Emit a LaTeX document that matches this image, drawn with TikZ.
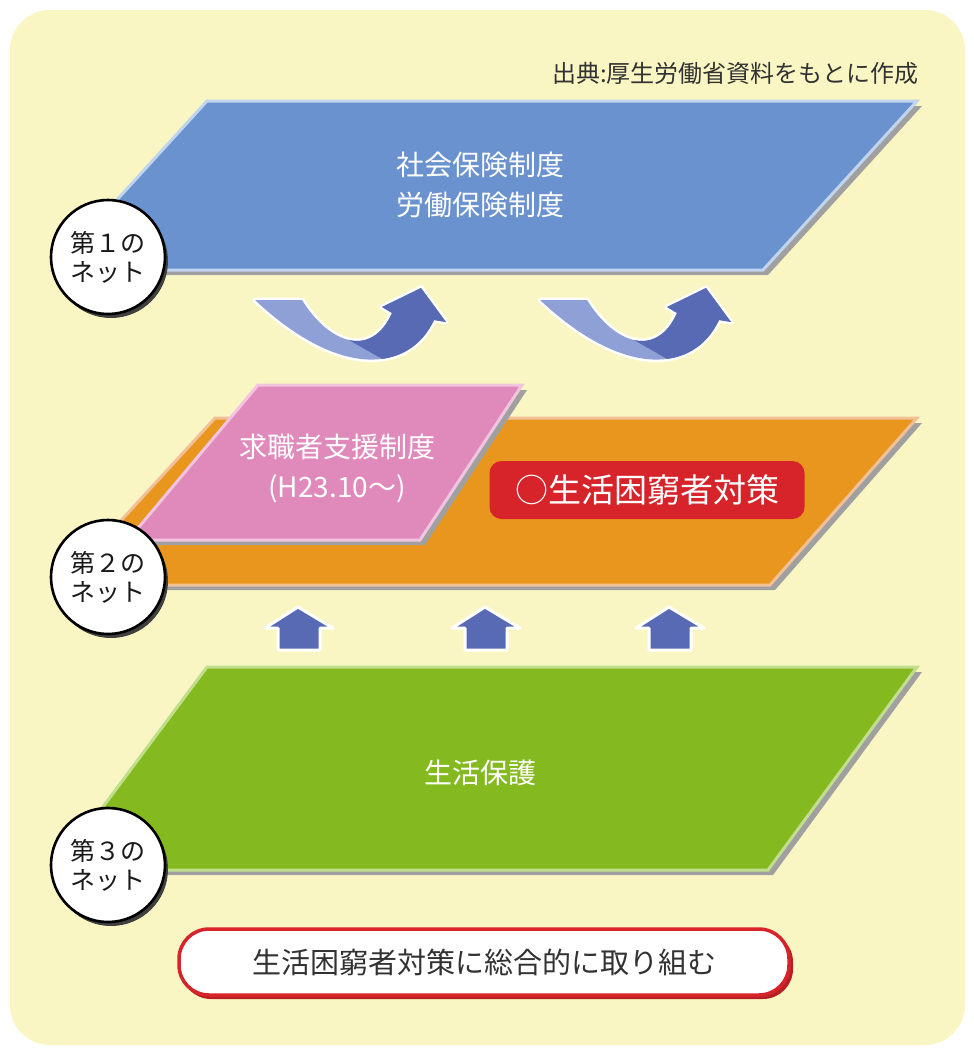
\documentclass[tikz,border=0pt]{standalone}
\usepackage{fontspec}
\setmainfont{Noto Sans CJK JP}
\definecolor{bgyellow}{RGB}{250,246,195}
\definecolor{netblue}{RGB}{106,146,206}
\definecolor{netblueL}{RGB}{192,212,238}
\definecolor{netorange}{RGB}{233,150,30}
\definecolor{netorangeL}{RGB}{242,192,150}
\definecolor{netpink}{RGB}{224,138,188}
\definecolor{netpinkL}{RGB}{242,196,224}
\definecolor{netgreen}{RGB}{132,186,32}
\definecolor{netgreenL}{RGB}{192,222,140}
\definecolor{shadowgray}{RGB}{160,160,160}
\definecolor{boxred}{RGB}{214,36,42}
\definecolor{arrlight}{RGB}{143,160,214}
\definecolor{arrdark}{RGB}{88,106,180}
\definecolor{txtgray}{RGB}{50,50,50}
\begin{document}
\begin{tikzpicture}[x=1pt,y=-1pt,
  plane/.style={line width=3pt,line join=miter},
  planeshadow/.style={fill=shadowgray},
  netcircle/.style={circle,minimum size=114pt,inner sep=0pt,fill=white,draw=black,line width=2.6pt,
    align=center,font=\fontsize{25}{29}\selectfont,text=black!90},
  circshadow/.style={fill=black!75},
  whitetext/.style={text=white,align=center,font=\fontsize{28}{40}\selectfont},
  uparrow/.style={fill=arrdark,draw=white,line width=3pt,line join=round}
]
% background
\fill[white] (0,0) rectangle (974,1053);
\fill[bgyellow,rounded corners=40pt] (10,10) rectangle (965,1045);

% source
\node[anchor=east,text=txtgray,font=\fontsize{24}{26}\selectfont] (src) at (922,73) {出典:厚生労働省資料をもとに作成};

% ---------- first net (blue)
\fill[planeshadow] (212,106) -- (922,106) -- (768,275) -- (58,275) -- cycle;
\filldraw[plane,fill=netblue,draw=netblueL] (207,101) -- (917,101) -- (763,270) -- (53,270) -- cycle;
\node[whitetext] (first) at (480,185) {社会保険制度\\労働保険制度};

% curved arrows
\foreach \dx in {0,285}{
  \begin{scope}[shift={(\dx,0)}]
    \draw[white,line width=5pt,line join=round]
      (255,300) -- (302,300) .. controls (330,345) and (372,358) .. (392,313)
      -- (382,307) -- (421,288) -- (446,322) -- (434,320)
      .. controls (410,372) and (340,380) .. (255,300) -- cycle;
    \fill[arrlight]
      (255,300) -- (302,300) .. controls (330,345) and (372,358) .. (392,313)
      -- (382,307) -- (421,288) -- (446,322) -- (434,320)
      .. controls (410,372) and (340,380) .. (255,300) -- cycle;
    \begin{scope}
      \clip (255,300) -- (302,300) .. controls (330,345) and (372,358) .. (392,313)
      -- (382,307) -- (421,288) -- (446,322) -- (434,320)
      .. controls (410,372) and (340,380) .. (255,300) -- cycle;
      \fill[arrdark] (360,270) -- (340,335) -- (400,369) -- (470,375) -- (470,270) -- cycle;
    \end{scope}
  \end{scope}
}

% ---------- second net (orange + pink)
\fill[planeshadow] (220,423) -- (922,423) -- (775,590) -- (67,590) -- cycle;
\filldraw[plane,fill=netorange,draw=netorangeL] (215,418) -- (917,418) -- (770,585) -- (62,585) -- cycle;
\fill[planeshadow] (263,390) -- (527,390) -- (425,545) -- (133,545) -- cycle;
\filldraw[plane,fill=netpink,draw=netpinkL] (258,385) -- (522,385) -- (420,540) -- (128,540) -- cycle;
\node[whitetext] (kyushoku) at (337,468) {求職者支援制度\\(H23.10〜)};
\node[fill=boxred,rounded corners=12pt,minimum width=315pt,minimum height=58pt,inner sep=0pt,
      text=white,font=\fontsize{33}{36}\selectfont] (konkyu) at (647,490) {○生活困窮者対策};

% up arrows
\foreach \dx [count=\i] in {0,187,371}{
  \filldraw[uparrow,shift={(\dx,0)}] (298,607) -- (333,628) -- (320,628) -- (320,650)
     -- (278,650) -- (278,628) -- (265,628) -- cycle;
}

% ---------- third net (green)
\fill[planeshadow] (212,672) -- (922,672) -- (773,875) -- (61,875) -- cycle;
\filldraw[plane,fill=netgreen,draw=netgreenL] (207,667) -- (917,667) -- (768,870) -- (56,870) -- cycle;
\node[whitetext] (hogo) at (480,773) {生活保護};

% circles
\fill[circshadow] (111,261) circle (57pt);
\node[netcircle] (c1) at (108,257) {第１の\\ネット};
\fill[circshadow] (111,581) circle (57pt);
\node[netcircle] (c2) at (108,577) {第２の\\ネット};
\fill[circshadow] (111,869) circle (57pt);
\node[netcircle] (c3) at (108,865) {第３の\\ネット};

% bottom box
\fill[boxred!85!black,rounded corners=30pt] (181,932) rectangle (793,999);
\node[draw=boxred,line width=3.5pt,fill=white,rounded corners=30pt,minimum width=610pt,minimum height=66pt,
      inner sep=0pt,text=txtgray,font=\fontsize{29}{32}\selectfont] (goal) at (484,962) {生活困窮者対策に総合的に取り組む};
\end{tikzpicture}
\end{document}
